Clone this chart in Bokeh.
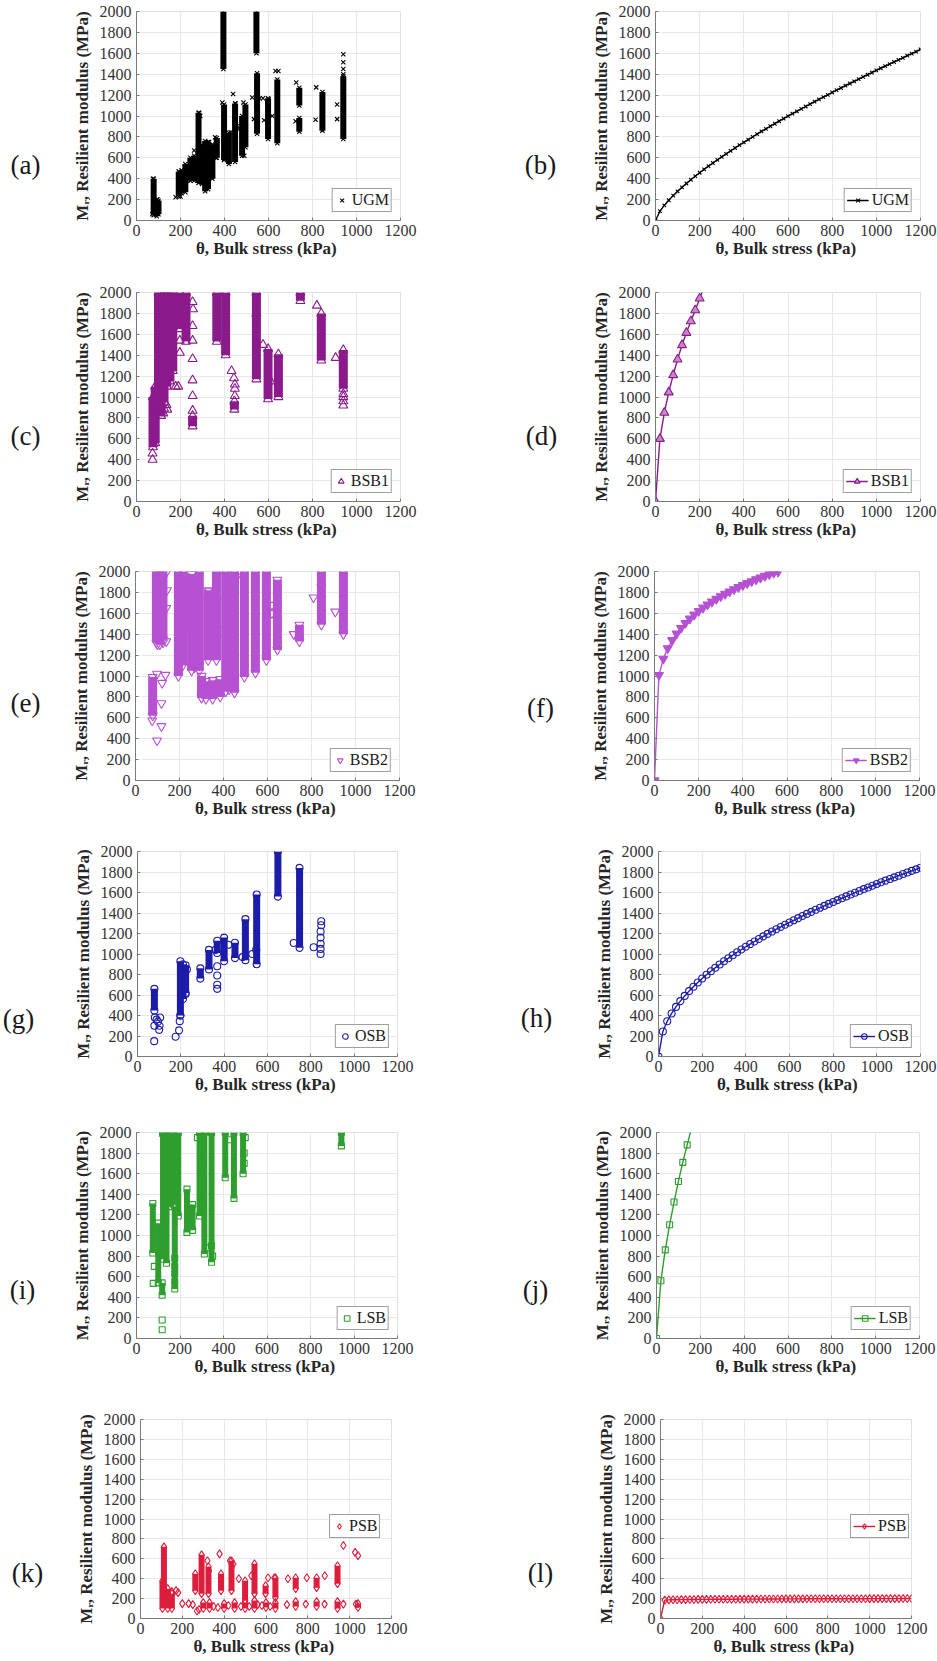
from bokeh.plotting import figure
from bokeh.layouts import column, row
from bokeh.models import Range1d, FixedTicker, Legend, LegendItem
from bokeh.core.properties import value
from bokeh.embed import file_html
from bokeh.resources import INLINE

# ---------------- data ----------------
X_TICKS = [0, 200, 400, 600, 800, 1000, 1200]
Y_TICKS = [0, 200, 400, 600, 800, 1000, 1200, 1400, 1600, 1800, 2000]
X_LABEL = "θ, Bulk stress  (kPa)"
Y_LABEL = "Mᵣ, Resilient modulus (MPa)"
PANEL_LETTERS = ["(a)", "(b)", "(c)", "(d)", "(e)", "(f)", "(g)", "(h)", "(i)", "(j)", "(k)", "(l)"]

# UGM measured: dense vertical bands (x, low, high) + isolated points
ugm_band_x = [78, 92, 100, 192, 205, 222, 245, 262, 282, 298, 312, 325, 345, 365, 395, 398, 420, 448, 480, 495, 545, 548, 598, 640, 740, 740, 845, 940]
ugm_band_lo = [50, 40, 60, 230, 260, 270, 380, 380, 360, 350, 280, 300, 400, 600, 1450, 580, 540, 560, 620, 700, 1600, 830, 780, 740, 1100, 850, 860, 780]
ugm_band_hi = [400, 200, 190, 470, 480, 540, 600, 620, 1030, 720, 760, 750, 730, 790, 2000, 1110, 840, 1120, 1000, 1110, 2000, 1410, 1170, 1350, 1270, 980, 1230, 1380]
ugm_pt_x = [72, 75, 85, 95, 100, 178, 200, 230, 262, 285, 290, 300, 330, 357, 360, 390, 395, 400, 428, 439, 445, 450, 455, 470, 486, 490, 526, 534, 560, 575, 580, 600, 617, 632, 645, 726, 723, 817, 814, 912, 912, 940, 940, 940, 940]
ugm_pt_y = [60, 400, 80, 200, 170, 222, 230, 380, 670, 1030, 1000, 680, 750, 796, 600, 1130, 880, 590, 844, 1210, 970, 1120, 900, 880, 1130, 620, 1178, 970, 1170, 1170, 960, 1160, 1000, 1430, 1430, 1320, 950, 1274, 965, 1110, 970, 1590, 1515, 1450, 1400]

# BSB1 measured
bsb1_band_x = [75, 85, 100, 112, 125, 138, 152, 165, 198, 225, 255, 365, 405, 445, 545, 598, 645, 745, 840, 940]
bsb1_band_lo = [520, 560, 850, 820, 950, 1100, 1150, 1250, 1650, 1530, 720, 1530, 1400, 880, 1170, 980, 1000, 1920, 1350, 1080]
bsb1_band_hi = [1000, 1100, 2000, 2000, 2000, 2000, 2000, 2000, 2000, 2000, 820, 2000, 2000, 960, 2000, 1460, 1410, 2000, 1800, 1450]
bsb1_pt_x = [73, 73, 122, 125, 136, 140, 178, 190, 197, 197, 255, 257, 255, 255, 255, 255, 255, 255, 160, 135, 432, 443, 447, 447, 447, 575, 545, 610, 820, 905, 940, 940, 940, 940]
bsb1_pt_y = [460, 400, 844, 890, 925, 880, 1100, 1100, 1540, 1425, 1910, 1840, 1680, 1540, 1365, 1160, 1010, 870, 1980, 1980, 1250, 1180, 1120, 1080, 1010, 1500, 1800, 1150, 1875, 1375, 1030, 1000, 960, 920]

# BSB2 measured
bsb2_band_x = [78, 95, 110, 125, 195, 215, 228, 255, 268, 290, 300, 330, 320, 350, 368, 385, 410, 425, 450, 495, 545, 595, 645, 745, 845, 945]
bsb2_band_lo = [620, 1320, 1300, 1350, 1000, 1100, 1420, 1050, 1080, 1050, 790, 1150, 780, 780, 1150, 800, 850, 870, 840, 990, 1030, 1150, 1250, 1330, 1490, 1400]
bsb2_band_hi = [990, 2000, 2000, 2000, 2000, 2000, 1950, 1975, 1900, 2000, 1000, 1820, 950, 960, 2000, 970, 2000, 1900, 2000, 2000, 2000, 2000, 1920, 1490, 2000, 2000]
bsb2_pt_x = [76, 98, 118, 118, 121, 98, 136, 100, 125, 140, 140, 143, 140, 290, 335, 330, 370, 370, 370, 370, 440, 460, 719, 809, 908, 845, 620, 620]
bsb2_pt_y = [573, 382, 519, 739, 933, 1020, 1010, 1300, 1320, 1330, 1650, 1820, 1990, 1100, 1810, 1720, 1720, 1450, 1360, 1960, 1960, 1950, 1400, 1750, 1615, 1850, 1600, 1680]

# OSB measured
osb_band_x = [78, 198, 210, 222, 290, 330, 368, 400, 450, 498, 550, 648, 748]
osb_band_lo = [450, 400, 560, 620, 760, 850, 1010, 930, 960, 940, 900, 1560, 1060]
osb_band_hi = [660, 930, 900, 890, 860, 1040, 1130, 1160, 1110, 1340, 1580, 2000, 1840]
osb_pt_x = [77, 78, 80, 88, 100, 102, 105, 95, 176, 192, 195, 198, 222, 228, 368, 368, 368, 368, 360, 420, 485, 530, 548, 721, 813, 845, 845, 845, 845, 845, 848, 848]
osb_pt_y = [150, 300, 380, 360, 260, 300, 380, 340, 193, 255, 345, 400, 610, 850, 880, 790, 700, 660, 1040, 1090, 970, 1000, 1040, 1108, 1066, 1000, 1050, 1100, 1160, 1220, 1280, 1320]

# LSB measured
lsb_band_x = [75, 100, 118, 122, 138, 158, 172, 176, 192, 232, 258, 290, 312, 345, 408, 448, 490, 942]
lsb_band_lo = [830, 540, 420, 770, 730, 1280, 1300, 480, 1190, 1030, 1050, 1190, 820, 740, 1560, 1360, 1600, 1870]
lsb_band_hi = [1310, 1120, 540, 2000, 2000, 2000, 2000, 1280, 2000, 1450, 1300, 2000, 2000, 2000, 2000, 2000, 2000, 2000]
lsb_pt_x = [77, 118, 118, 82, 120, 130, 176, 176, 176, 176, 280, 300, 330, 345, 350, 430, 500, 495, 495]
lsb_pt_y = [535, 180, 85, 700, 1990, 1980, 780, 700, 630, 550, 1950, 1600, 880, 900, 800, 1930, 1950, 1800, 1700]

# PSB measured
psb_band_x = [112, 105, 130, 150, 262, 292, 325, 385, 435, 500, 545, 598, 645, 742, 842, 942,
              300, 330, 400, 450, 500, 545, 600, 645, 742, 842, 942, 1040]
psb_band_lo = [180, 100, 100, 100, 280, 250, 250, 280, 280, 180, 250, 250, 210, 300, 310, 350,
               100, 100, 100, 100, 100, 100, 110, 100, 120, 120, 100, 110]
psb_band_hi = [720, 380, 300, 250, 450, 640, 520, 450, 580, 380, 550, 330, 410, 410, 410, 530,
               160, 160, 150, 160, 160, 180, 160, 160, 170, 170, 170, 150]
psb_pt_x = [120, 150, 170, 180, 200, 230, 250, 270, 280, 320, 327, 378, 428, 444, 470, 530, 610, 640, 705, 795, 881, 970, 1026, 1040, 700, 790, 880, 970, 1030, 350, 370, 420, 480, 520, 560, 580, 620]
psb_pt_y = [250, 270, 280, 260, 150, 150, 140, 75, 90, 580, 480, 650, 581, 548, 400, 430, 410, 410, 400, 410, 430, 733, 665, 632, 140, 145, 145, 145, 145, 120, 110, 130, 120, 120, 140, 130, 120]

# model curves (markers every 20 kPa)
ugm_curve_x = list(range(0, 1201, 20))
ugm_curve_y = [0, 89, 145, 194, 238, 279, 317, 354, 390, 424, 457,
               489, 520, 550, 580, 609, 638, 666, 694, 721, 748,
               774, 800, 826, 852, 877, 902, 926, 950, 974, 998,
               1022, 1045, 1068, 1091, 1114, 1137, 1159, 1181, 1203, 1225,
               1247, 1268, 1290, 1311, 1332, 1353, 1374, 1395, 1416, 1436,
               1457, 1477, 1497, 1517, 1537, 1557, 1577, 1596, 1616, 1638]
bsb1_curve_x = list(range(0, 221, 20))
bsb1_curve_y = [0, 600, 850, 1045, 1210, 1360, 1497, 1615, 1726, 1831, 1943, 2050]
bsb2_curve_x = list(range(0, 561, 20))
bsb2_curve_y = [0, 1009, 1164, 1265, 1342, 1405, 1459, 1506, 1548, 1586, 1621,
                1653, 1683, 1711, 1737, 1762, 1785, 1808, 1829, 1850, 1869,
                1888, 1906, 1924, 1941, 1957, 1973, 1988, 1998]
osb_curve_x = list(range(0, 1201, 20))
osb_curve_y = [0, 244, 344, 420, 484, 540, 591, 638, 681, 722, 761,
               797, 832, 866, 898, 929, 959, 988, 1017, 1044, 1071,
               1097, 1122, 1147, 1172, 1196, 1219, 1242, 1264, 1286, 1308,
               1329, 1350, 1371, 1391, 1411, 1431, 1451, 1470, 1489, 1508,
               1526, 1544, 1562, 1580, 1598, 1615, 1633, 1649, 1666, 1683,
               1700, 1716, 1732, 1748, 1764, 1780, 1795, 1811, 1826, 1842]
lsb_curve_x = list(range(0, 161, 20))
lsb_curve_y = [0, 560, 860, 1105, 1325, 1525, 1710, 1880, 2045]
psb_curve_x = list(range(0, 1201, 20))
psb_curve_y = [0, 185, 187, 188, 189, 190, 190, 191, 191, 192, 192,
               192, 193, 193, 193, 194, 194, 194, 194, 195, 195,
               195, 195, 195, 196, 196, 196, 196, 196, 197, 197,
               197, 197, 197, 197, 198, 198, 198, 198, 198, 198,
               198, 199, 199, 199, 199, 199, 199, 199, 199, 200,
               200, 200, 200, 200, 200, 200, 200, 201, 201, 201]

# ---------------- styling ----------------
SERIF = "Liberation Serif"
LABEL_FONT = "'Liberation Serif', 'DejaVu Serif', 'DejaVu Sans'"
C_UGM = "#000000"
C_BSB1 = "#8b1a8b"
C_BSB2 = "#b651d2"
C_OSB = "#1c1ca8"
C_LSB = "#2e9e2e"
C_PSB = "#dc1e3c"


def letter_fig(text, width, height, tx, ty):
    f = figure(width=width, height=height, x_range=Range1d(0, width),
               y_range=Range1d(height, 0), output_backend="svg",
               toolbar_location=None, x_axis_location=None, y_axis_location=None,
               min_border=0)
    f.xgrid.grid_line_color = None
    f.ygrid.grid_line_color = None
    f.outline_line_color = None
    f.text(x=[tx], y=[ty], text=[text], text_font=value(SERIF),
           text_font_size="27px", text_color="#1a1a1a",
           text_align="center", text_baseline="middle")
    return f


def base(width, height, left, fw, top, fh):
    right = width - left - fw
    bottom = height - top - fh
    p = figure(width=width, height=height,
               x_range=Range1d(0, 1200), y_range=Range1d(0, 2000),
               output_backend="svg", toolbar_location=None,
               min_border_left=left, min_border_right=right,
               min_border_top=top, min_border_bottom=bottom)
    p.xaxis.ticker = FixedTicker(ticks=X_TICKS)
    p.yaxis.ticker = FixedTicker(ticks=Y_TICKS)
    p.xaxis.axis_label = X_LABEL
    p.yaxis.axis_label = Y_LABEL
    for ax in (p.xaxis[0], p.yaxis[0]):
        ax.major_label_text_font = SERIF
        ax.major_label_text_font_size = "16px"
        ax.major_label_text_color = "#333333"
        ax.axis_label_text_font = LABEL_FONT
        ax.axis_label_text_font_size = "17px"
        ax.axis_label_text_font_style = "bold"
        ax.axis_label_text_color = "#262626"
        ax.axis_line_color = "#7a7a7a"
        ax.major_tick_line_color = "#7a7a7a"
        ax.major_tick_in = 3
        ax.major_tick_out = 0
        ax.minor_tick_line_color = None
    p.xaxis.major_label_standoff = 4
    p.yaxis.major_label_standoff = 5
    p.xaxis.axis_label_standoff = 0
    p.yaxis.axis_label_standoff = 5
    p.xgrid.grid_line_color = "#e8e8e8"
    p.ygrid.grid_line_color = "#e8e8e8"
    p.outline_line_color = "#e0e0e0"
    return p


def add_legend(p, label, renderers, glyph_w, loc):
    leg = Legend(items=[LegendItem(label=label, renderers=renderers)],
                 location=loc, margin=8, padding=2, spacing=0,
                 glyph_width=glyph_w, glyph_height=14, label_height=14,
                 label_standoff=3,
                 label_text_font=SERIF, label_text_font_size="16px",
                 label_text_color="#1a1a1a",
                 border_line_color="#404040", border_line_width=1,
                 background_fill_color="white", background_fill_alpha=1.0)
    p.add_layout(leg)


def scatter_panel(p, bx, blo, bhi, px, py, marker, color, size, bw, label, loc):
    p.segment(x0=bx, y0=blo, x1=bx, y1=bhi, line_color=color, line_width=bw)
    p.scatter(bx + bx, blo + bhi, marker=marker, size=size, line_color=color,
              fill_color=None, line_width=1.1)
    r = p.scatter(px, py, marker=marker, size=size, line_color=color,
                  fill_color=None, line_width=1.1)
    add_legend(p, label, [r], 14, loc)


def curve_panel(p, cx, cy, marker, color, size, fill, label, loc):
    l = p.line(cx, cy, line_color=color, line_width=1.4)
    s = p.scatter(cx, cy, marker=marker, size=size, line_color=color,
                  fill_color=fill, line_width=1.1)
    add_legend(p, label, [l, s], 22, loc)


# column geometry: letter strip + chart
LW, RW = 60, 100          # letter strip widths (left / right column)
LCW, RCW = 468 - LW, 469 - RW

# ---------------- panels ----------------
pa = base(LCW, 281, 76, 264, 11, 209)
scatter_panel(pa, ugm_band_x, ugm_band_lo, ugm_band_hi, ugm_pt_x, ugm_pt_y,
              "x", C_UGM, 6, 6, "UGM", "bottom_right")
pb = base(RCW, 281, 87, 265, 11, 209)
curve_panel(pb, ugm_curve_x, ugm_curve_y, "x", C_UGM, 5, None, "UGM", "bottom_right")

pc = base(LCW, 279, 76, 264, 11, 209)
scatter_panel(pc, bsb1_band_x, bsb1_band_lo, bsb1_band_hi, bsb1_pt_x, bsb1_pt_y,
              "triangle", C_BSB1, 9, 9, "BSB1", "bottom_right")
pd = base(RCW, 279, 87, 265, 11, 209)
curve_panel(pd, bsb1_curve_x, bsb1_curve_y, "triangle", C_BSB1, 9, "#c58ac5", "BSB1", "bottom_right")

pe = base(LCW, 279, 75, 264, 11, 209)
scatter_panel(pe, bsb2_band_x, bsb2_band_lo, bsb2_band_hi, bsb2_pt_x, bsb2_pt_y,
              "inverted_triangle", C_BSB2, 9, 9, "BSB2", "bottom_right")
pf = base(RCW, 279, 86, 265, 11, 210)
curve_panel(pf, bsb2_curve_x, bsb2_curve_y, "inverted_triangle", C_BSB2, 9, C_BSB2, "BSB2", "bottom_right")

pg = base(LCW, 282, 77, 260, 12, 207)
scatter_panel(pg, osb_band_x, osb_band_lo, osb_band_hi, osb_pt_x, osb_pt_y,
              "circle", C_OSB, 7, 7, "OSB", "bottom_right")
ph = base(RCW, 282, 90, 262, 9, 208)
curve_panel(ph, osb_curve_x, osb_curve_y, "circle", C_OSB, 7, None, "OSB", "bottom_right")

pi = base(LCW, 284, 76, 261, 11, 207)
scatter_panel(pi, lsb_band_x, lsb_band_lo, lsb_band_hi, lsb_pt_x, lsb_pt_y,
              "square", C_LSB, 6, 6, "LSB", "bottom_right")
pj = base(RCW, 284, 88, 263, 11, 206)
curve_panel(pj, lsb_curve_x, lsb_curve_y, "square", C_LSB, 6, None, "LSB", "bottom_right")

pk = base(LCW, 255, 80, 251, 14, 199)
scatter_panel(pk, psb_band_x, psb_band_lo, psb_band_hi, psb_pt_x, psb_pt_y,
              "diamond", C_PSB, 8, 6, "PSB", (189, 80))
pl = base(RCW, 255, 92, 251, 14, 199)
curve_panel(pl, psb_curve_x, psb_curve_y, "diamond", C_PSB, 8, None, "PSB", (190, 80))

# letter strips (x, y in strip pixels)
la = letter_fig(PANEL_LETTERS[0], LW, 281, 25, 207)
lb = letter_fig(PANEL_LETTERS[1], RW, 281, 72, 207)
lc = letter_fig(PANEL_LETTERS[2], LW, 279, 25, 192)
ld = letter_fig(PANEL_LETTERS[3], RW, 279, 73, 191)
le = letter_fig(PANEL_LETTERS[4], LW, 279, 25, 175)
lf = letter_fig(PANEL_LETTERS[5], RW, 279, 72, 182)
lg = letter_fig(PANEL_LETTERS[6], LW, 282, 18, 231)
lh = letter_fig(PANEL_LETTERS[7], RW, 282, 68, 229)
li = letter_fig(PANEL_LETTERS[8], LW, 284, 22, 217)
lj = letter_fig(PANEL_LETTERS[9], RW, 284, 67, 217)
lk = letter_fig(PANEL_LETTERS[10], LW, 255, 27, 197)
ll = letter_fig(PANEL_LETTERS[11], RW, 255, 72, 197)

layout = column(row(la, pa, lb, pb), row(lc, pc, ld, pd), row(le, pe, lf, pf),
                row(lg, pg, lh, ph), row(li, pi, lj, pj), row(lk, pk, ll, pl))

with open("out.html", "w") as f:
    f.write(file_html(layout, INLINE))
